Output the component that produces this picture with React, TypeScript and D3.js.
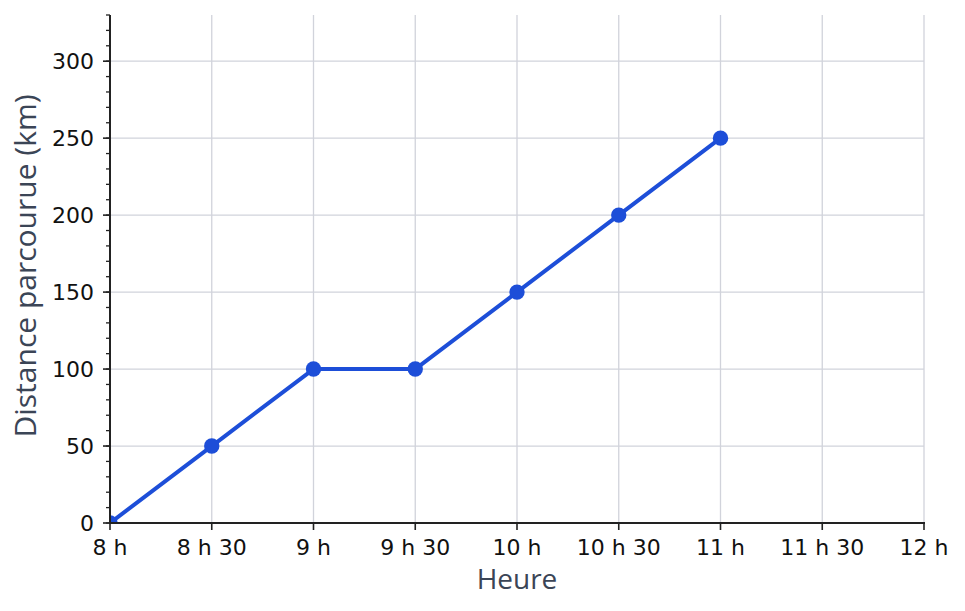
import React from "react";
import * as d3 from "d3";

const times = [0, 30, 60, 90, 120, 150, 180]; // minutes after 8 h
const distances = [0, 50, 100, 100, 150, 200, 250];
const xTickValues = [0, 30, 60, 90, 120, 150, 180, 210, 240];
const xTickLabels = ["8 h", "8 h 30", "9 h", "9 h 30", "10 h", "10 h 30", "11 h", "11 h 30", "12 h"];
const yTickValues = [0, 50, 100, 150, 200, 250, 300];
const yMinorValues = d3.range(0, 331, 10);

const W = 965;
const H = 611;
const M = { left: 110, right: 41, top: 15, bottom: 88 };

export default function App() {
  const x = d3.scaleLinear().domain([0, 240]).range([M.left, W - M.right]);
  const y = d3.scaleLinear().domain([0, 330]).range([H - M.bottom, M.top]);
  const line = d3
    .line<number>()
    .x((_, i) => x(times[i]))
    .y((d) => y(d));
  const pts = distances.map((d, i) => ({ t: times[i], d }));
  const tickFont = "DejaVu Sans, sans-serif";
  const labelFont = "Open Sans, Noto Sans, sans-serif";
  const x0 = x(0);
  const y0 = y(0);
  return (
    <svg width={W} height={H} style={{ position: "absolute", left: 0, top: 0 }}>
      <defs>
        <clipPath id="plot">
          <rect x={x0} y={M.top} width={x(240) - x0} height={y0 - M.top} />
        </clipPath>
      </defs>
      <rect width={W} height={H} fill="#fff" />
      {yTickValues.map((v) => (
        <line key={"gy" + v} x1={x0} x2={x(240)} y1={y(v)} y2={y(v)} stroke="#d1d3db" strokeWidth={1.3} />
      ))}
      {xTickValues.map((v) => (
        <line key={"gx" + v} x1={x(v)} x2={x(v)} y1={M.top} y2={y0} stroke="#d1d3db" strokeWidth={1.3} />
      ))}
      <g clipPath="url(#plot)">
        <path d={line(distances) || ""} fill="none" stroke="#1d4ed8" strokeWidth={4} strokeLinejoin="round" />
        {pts.map((p, i) => (
          <circle key={i} cx={x(p.t)} cy={y(p.d)} r={7.7} fill="#1d4ed8" />
        ))}
      </g>
      {/* axes */}
      <line x1={x0} x2={x0} y1={M.top} y2={y0} stroke="#222" strokeWidth={2} />
      <line x1={x0 - 1} x2={x(240) + 1} y1={y0} y2={y0} stroke="#222" strokeWidth={2} />
      {yMinorValues.map((v) => (
        <line key={"my" + v} x1={x0 - 4} x2={x0} y1={y(v)} y2={y(v)} stroke="#222" strokeWidth={1.3} />
      ))}
      {yTickValues.map((v) => (
        <g key={"ty" + v}>
          <line x1={x0 - 7} x2={x0} y1={y(v)} y2={y(v)} stroke="#222" strokeWidth={1.6} />
          <text x={x0 - 16} y={y(v)} dy="0.36em" textAnchor="end" fontFamily={tickFont} fontSize={22} fill="#111">
            {v}
          </text>
        </g>
      ))}
      {xTickValues.map((v, i) => (
        <g key={"tx" + v}>
          <line x1={x(v)} x2={x(v)} y1={y0} y2={y0 + 7} stroke="#222" strokeWidth={1.6} />
          <text x={x(v)} y={y0 + 32} textAnchor="middle" fontFamily={tickFont} fontSize={22} fill="#111">
            {xTickLabels[i]}
          </text>
        </g>
      ))}
      <text x={(x0 + x(240)) / 2} y={589} textAnchor="middle" fontFamily={labelFont} fontSize={28} fill="#3b4556">
        Heure
      </text>
      <text
        transform={`translate(36,${(M.top + y0) / 2 - 3}) rotate(-90)`}
        textAnchor="middle"
        fontFamily={labelFont}
        fontSize={30}
        fill="#3b4556"
      >
        Distance parcourue (km)
      </text>
    </svg>
  );
}
